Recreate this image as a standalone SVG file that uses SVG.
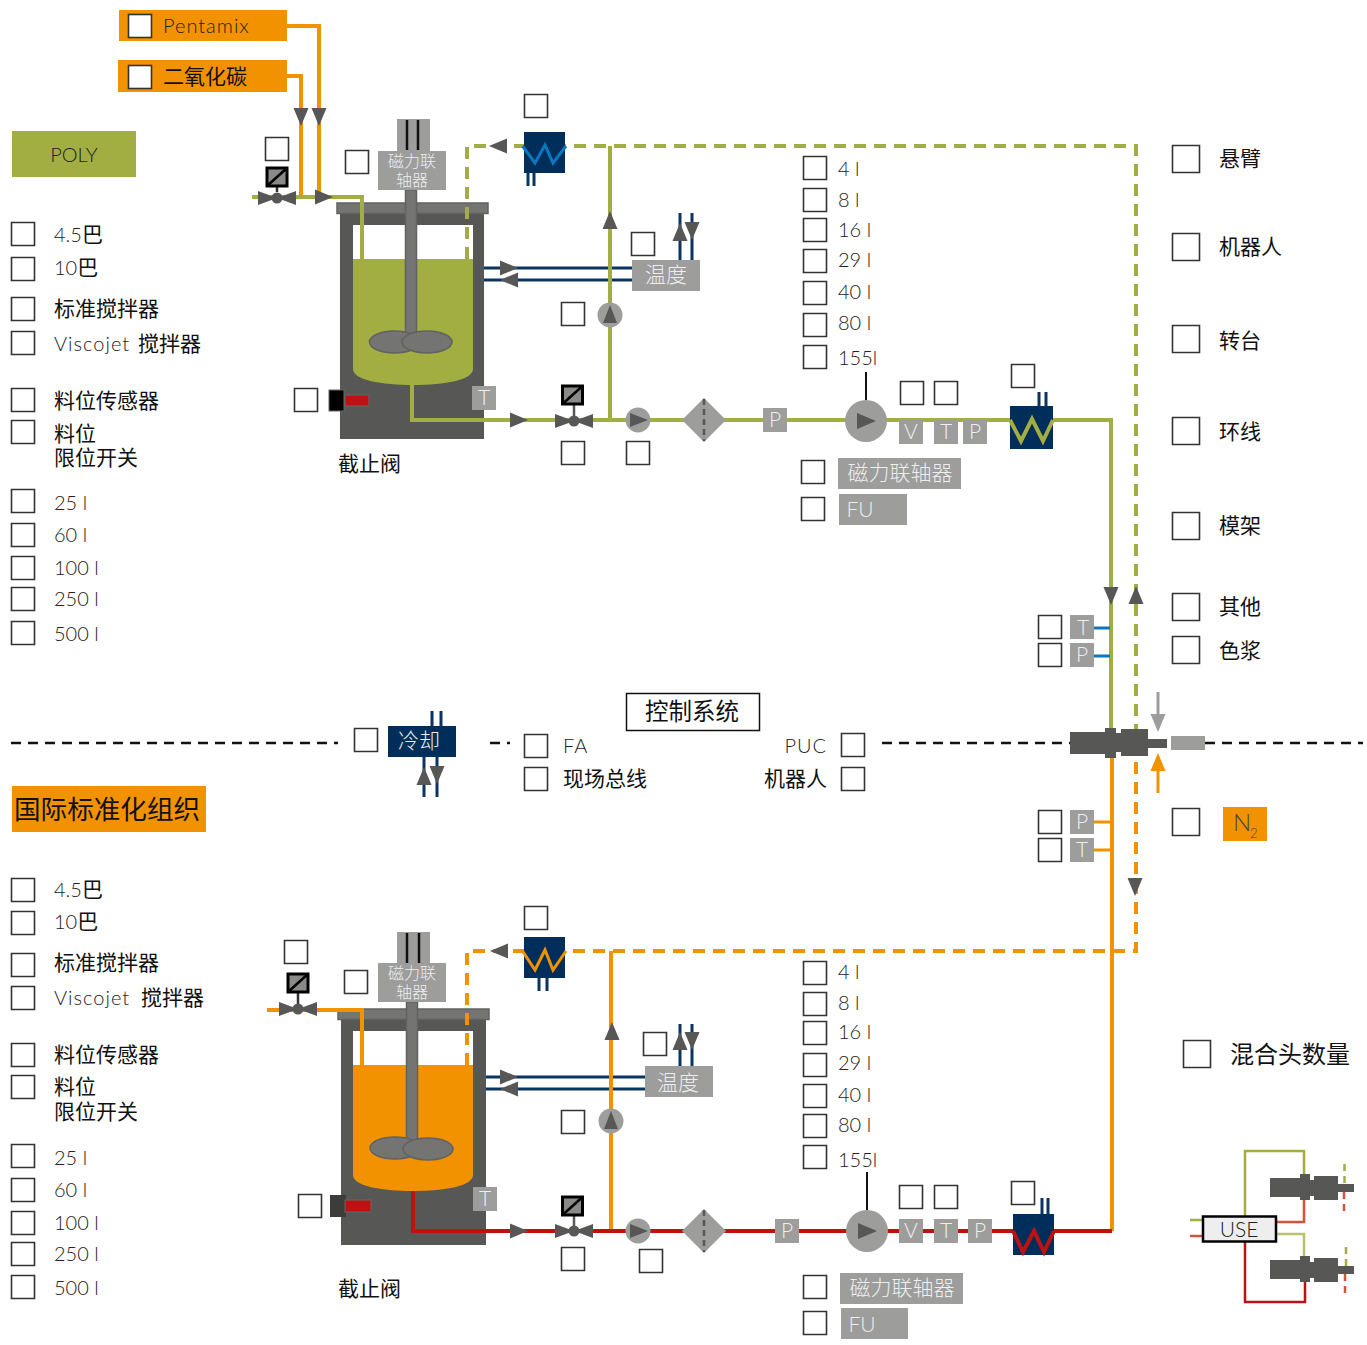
<svg xmlns="http://www.w3.org/2000/svg" width="1367" height="1345" viewBox="0 0 1367 1345">
<style>
text{font-family:"Lato","Noto Sans CJK SC",sans-serif;}
.cb{fill:#fff;stroke:#333;stroke-width:1.6}
.t{font-size:20px;fill:#222;font-weight:300}
.s{letter-spacing:1px}
.c{font-size:21px;fill:#111;font-weight:400}
.w{font-size:21px;fill:#eee;font-weight:300;text-anchor:middle}
.w14{font-size:16px;fill:#eee;font-weight:300;text-anchor:middle}
.g{fill:#9d9d9c}
.d{fill:#575756}
.bar{fill:#747473;stroke:#626261;stroke-width:1.5}
.ol{fill:none;stroke:#a2ad42;stroke-width:4}
.ord{fill:none;stroke:#f39200;stroke-width:4}
.rd{fill:none;stroke:#be1212;stroke-width:4}
.old{fill:none;stroke:#a2ad42;stroke-width:4;stroke-dasharray:12 8}
.ordd{fill:none;stroke:#f39200;stroke-width:4;stroke-dasharray:12 8}
.nv{fill:none;stroke:#0b3561;stroke-width:3}
.bl{fill:none;stroke:#0a78be;stroke-width:3}
.bk{fill:none;stroke:#111;stroke-width:2}
.dash{fill:none;stroke:#111;stroke-width:2.5;stroke-dasharray:10 7}
.a{fill:#575756}
</style>
<defs>
<polygon id="ar" points="-9,-7.500 9,0 -9,7.500"/>
<g id="valve"><polygon class="d" points="-19,-7 0,0 -19,7"/><polygon class="d" points="19,-7 0,0 19,7"/><circle class="d" r="5.500"/></g>
<g id="act"><rect x="-10" y="-9" width="20" height="18" fill="#8a8a89" stroke="#000" stroke-width="3"/><line x1="-10" y1="9" x2="10" y2="-9" stroke="#000" stroke-width="2.500"/></g>
<g id="pump"><circle class="g" r="12.500"/><polygon class="d" points="-8,-7 10,0 -8,7"/></g>
<g id="filter"><polygon class="g" points="-22,0 0,-22 22,0 0,22"/><line x1="0" y1="-21" x2="0" y2="21" stroke="#575756" stroke-width="2.500" stroke-dasharray="6 4"/></g>
<g id="bigpump"><circle class="g" r="21"/><polygon class="d" points="-9,-8 10,0 -9,8"/></g>
</defs>
<rect width="1367" height="1345" fill="#fff"/>

<g id="tank-top">
<rect class="d" x="340" y="213" width="144" height="226"/>
<rect x="353" y="225" width="120" height="35" fill="#fff"/>
<path d="M353 259H473V369C473 380 445 385 413 385C381 385 353 380 353 369Z" fill="#a2ad42"/>
<rect class="bar" x="337" y="203" width="151" height="10.500"/>
<rect class="bar" x="405.500" y="190" width="11" height="145"/>
<ellipse class="bar" cx="394.500" cy="342" rx="25" ry="11"/>
<ellipse class="bar" cx="427" cy="342" rx="25" ry="11"/>
<rect x="472" y="386" width="24" height="24" class="g"/><text class="w" x="484" y="405">T</text>
</g>
<g id="tank-bottom">
<rect class="d" x="341" y="1019" width="145" height="226"/>
<rect x="353" y="1031" width="120" height="35" fill="#fff"/>
<path d="M353 1065H473V1175C473 1186 445 1191 413 1191C381 1191 353 1186 353 1175Z" fill="#f39200"/>
<rect class="bar" x="338" y="1009" width="151" height="10.500"/>
<rect class="bar" x="406.500" y="1002" width="11" height="140"/>
<ellipse class="bar" cx="395" cy="1148" rx="25" ry="11"/>
<ellipse class="bar" cx="428" cy="1149" rx="25" ry="11"/>
<rect x="473" y="1187" width="24" height="24" class="g"/><text class="w" x="485" y="1206">T</text>
</g>

<g id="connectors">
<path class="dash" d="M11 743H338M490 743H510M882 743H1070M1205 743H1363"/>
<path class="nv" d="M484 268H632M484 280H632M680 260V213M692 260V213M528 173V186M534 173V186M1039 406V392M1046 406V392"/>
<path class="ord" d="M287 26H319V197M287 76H301V197"/>
<path class="ol" d="M252 197H362V259M412 385V420H1111V730M610 420V146"/>
<path class="old" d="M467 259V146H1136V730"/>
<path d="M866 372V400" class="bk"/>
<path class="bl" d="M1094 628H1110M1094 656H1110"/>
<path class="nv" d="M486 1077H645M486 1089H645M680 1066V1024M692 1066V1024M539 978V991M547 978V991M1042 1214V1198M1048 1214V1198M432 726V711M441 726V711M424 757V797M437 757V797"/>
<path class="ord" d="M267 1010H362V1065M611 1231V951M1112 758V1231"/>
<path style="stroke-width:3" class="ord" d="M1094 822H1110M1094 850H1110"/>
<path class="rd" d="M413 1191V1231H1112"/>
<path class="ordd" d="M467 1065V951H1136V758"/>
<path d="M867 1172V1210" class="bk"/>
<path d="M1158 692V715" fill="none" stroke="#9d9d9c" stroke-width="3"/>
<path d="M1158 793V770" fill="none" stroke="#f39200" stroke-width="3"/>
<g class="a">
<use href="#ar" transform="translate(301 117) rotate(90)"/>
<use href="#ar" transform="translate(319 117) rotate(90)"/>
<use href="#ar" transform="translate(324 197)"/>
<use href="#ar" transform="translate(519 420)"/>
<use href="#ar" transform="translate(498 146) rotate(180)"/>
<use href="#ar" transform="translate(610 220) rotate(-90)"/>
<use href="#ar" transform="translate(509 268)"/>
<use href="#ar" transform="translate(509 280) rotate(180)"/>
<use href="#ar" transform="translate(680 232) rotate(-90)"/>
<use href="#ar" transform="translate(692 231) rotate(90)"/>
<use href="#ar" transform="translate(1111 596) rotate(90)"/>
<use href="#ar" transform="translate(1136 595) rotate(-90)"/>
<use href="#ar" transform="translate(1135 887) rotate(90)"/>
<use href="#ar" transform="translate(519 1231)"/>
<use href="#ar" transform="translate(499 951) rotate(180)"/>
<use href="#ar" transform="translate(612 1031) rotate(-90)"/>
<use href="#ar" transform="translate(509 1077)"/>
<use href="#ar" transform="translate(509 1089) rotate(180)"/>
<use href="#ar" transform="translate(680 1041) rotate(-90)"/>
<use href="#ar" transform="translate(692 1041) rotate(90)"/>
<use href="#ar" transform="translate(424 776) rotate(-90)"/>
<use href="#ar" transform="translate(437 775) rotate(90)"/>
</g>
<use href="#ar" transform="translate(1158 723) rotate(90)" fill="#9d9d9c"/>
<use href="#ar" transform="translate(1158 762) rotate(-90)" fill="#f39200"/>
</g>

<g id="coupling-top">
<rect class="g" x="397" y="119" width="33" height="33"/>
<path d="M407 120V150M418 120V150" stroke="#111" stroke-width="2.500" fill="none"/>
<rect class="g" x="378" y="151" width="68" height="39"/>
<text class="w14" x="412" y="167">磁力联</text><text class="w14" x="412" y="186">轴器</text>
</g>
<g id="sensor-top"><rect x="329" y="390" width="15" height="21" fill="#000" stroke="#666" stroke-width="1"/><rect x="345" y="395" width="24" height="11" fill="#be1212" stroke="#666" stroke-width="1"/></g>
<g id="hx-top"><rect x="524" y="132" width="41" height="41" fill="#002e5b"/><path d="M522.500 146L535 163L545 145L553 163L566 146" fill="none" stroke="#0a78be" stroke-width="3"/></g>
<g id="temp-top"><rect class="g" x="632" y="260" width="68" height="31"/><text class="w" x="666" y="282">温度</text></g>
<g id="valve-feed-top"><line x1="277" y1="178" x2="277" y2="192" stroke="#333" stroke-width="2.500"/><use href="#act" x="277" y="177"/><use href="#valve" x="277" y="198"/></g>
<g id="valve-out-top"><line x1="574" y1="404" x2="574" y2="416" stroke="#575756" stroke-width="2.500"/><use href="#act" x="572.500" y="395"/><use href="#valve" x="574" y="421"/></g>
<use id="pump-1" href="#pump" x="638" y="420"/>
<use id="pump-2" href="#pump" transform="translate(610 315) rotate(-90)"/>
<use id="filter-top" href="#filter" x="704" y="420"/>
<use id="bigpump-top" href="#bigpump" x="866" y="421"/>
<g id="p-top"><rect class="g" x="763" y="408" width="24" height="24"/><text class="w" x="775" y="427">P</text></g>
<g id="v-top"><rect class="g" x="899" y="420" width="24" height="24"/><text class="w" x="911" y="439">V</text></g>
<g id="t-top"><rect class="g" x="934" y="420" width="24" height="24"/><text class="w" x="946" y="439">T</text></g>
<g id="p2-top"><rect class="g" x="963" y="420" width="24" height="24"/><text class="w" x="975" y="439">P</text></g>
<g id="hx2-top"><rect x="1010" y="406" width="43" height="43" fill="#002e5b"/><path d="M1010 420L1021 441L1032 419L1043 441L1053 420" fill="none" stroke="#a2ad42" stroke-width="4"/></g>
<g id="mag-top"><rect class="g" x="838" y="458" width="123" height="31"/><text class="w" x="900" y="480">磁力联轴器</text></g>
<g id="fu-top"><rect class="g" x="839" y="494" width="68" height="31"/><text class="w" x="860" y="517">FU</text></g>
<g id="t-r1"><rect class="g" x="1070" y="615" width="24" height="24"/><text class="w" x="1083" y="635">T</text></g>
<g id="p-r1"><rect class="g" x="1070" y="643" width="24" height="24"/><text class="w" x="1082" y="662">P</text></g>
<g id="p-r2"><rect class="g" x="1070" y="810" width="24" height="24"/><text class="w" x="1082" y="829">P</text></g>
<g id="t-r2"><rect class="g" x="1070" y="838" width="24" height="24"/><text class="w" x="1082" y="857">T</text></g>

<g id="mixhead">
<rect class="d" x="1070" y="732" width="36" height="22"/><rect class="d" x="1105" y="728" width="11" height="30"/><rect class="d" x="1115" y="733" width="7" height="19"/><rect class="d" x="1121" y="729" width="27" height="27"/><rect class="d" x="1148" y="739" width="19" height="9"/>
<rect class="g" x="1171" y="736" width="34" height="14"/>
</g>

<g id="coupling-bottom">
<rect class="g" x="397" y="932" width="33" height="32"/>
<path d="M407 933V963M419 933V963" stroke="#111" stroke-width="2.500" fill="none"/>
<rect class="g" x="378" y="963" width="68" height="39"/>
<text class="w14" x="412" y="979">磁力联</text><text class="w14" x="412" y="998">轴器</text>
</g>
<g id="sensor-bottom"><rect x="330" y="1195" width="16" height="22" fill="#3c3c3b"/><rect x="345" y="1200" width="26" height="12" fill="#be1212" stroke="#666" stroke-width="1"/></g>
<g id="hx-bottom"><rect x="524" y="937" width="41" height="41" fill="#002e5b"/><path d="M522.500 951L535 970L545 950L553 970L566 951" fill="none" stroke="#f39200" stroke-width="3"/></g>
<g id="temp-bottom"><rect class="g" x="645" y="1066" width="68" height="31"/><text class="w" x="678" y="1090">温度</text></g>
<g id="valve-feed-bottom"><line x1="298" y1="992" x2="298" y2="1005" stroke="#333" stroke-width="2.500"/><use href="#act" x="298" y="983"/><use href="#valve" x="298" y="1009"/></g>
<g id="valve-out-bottom"><line x1="574" y1="1215" x2="574" y2="1227" stroke="#575756" stroke-width="2.500"/><use href="#act" x="572.500" y="1206"/><use href="#valve" x="574" y="1231"/></g>
<use id="pump-3" href="#pump" x="638" y="1231"/>
<use id="pump-4" href="#pump" transform="translate(611 1121) rotate(-90)"/>
<use id="filter-bottom" href="#filter" x="704" y="1231"/>
<use id="bigpump-bottom" href="#bigpump" x="867" y="1231"/>
<g id="p-bottom"><rect class="g" x="775" y="1219" width="24" height="24"/><text class="w" x="787" y="1238">P</text></g>
<g id="v-bottom"><rect class="g" x="899" y="1219" width="24" height="24"/><text class="w" x="911" y="1238">V</text></g>
<g id="t-bottom"><rect class="g" x="934" y="1219" width="24" height="24"/><text class="w" x="946" y="1238">T</text></g>
<g id="p2-bottom"><rect class="g" x="968" y="1219" width="24" height="24"/><text class="w" x="980" y="1238">P</text></g>
<g id="hx2-bottom"><rect x="1013" y="1214" width="41" height="41" fill="#002e5b"/><path d="M1013 1231L1023 1252L1034 1231L1044 1252L1054 1231" fill="none" stroke="#be1212" stroke-width="4"/></g>
<g id="mag-bottom"><rect class="g" x="840" y="1273" width="123" height="31"/><text class="w" x="902" y="1295">磁力联轴器</text></g>
<g id="fu-bottom"><rect class="g" x="841" y="1308" width="67" height="31"/><text class="w" x="862" y="1332">FU</text></g>

<g id="n2"><rect x="1223" y="807" width="44" height="34" fill="#f39200"/><text x="1233" y="831" font-size="24" font-weight="300" fill="#444">N</text><text x="1250" y="838" font-size="13" font-weight="300" fill="#444">2</text></g>
<g id="pentamix"><rect x="119" y="10" width="168" height="31" fill="#f39200"/><rect class="cb" x="128.500" y="14.500" width="23" height="23"/><text class="t s" x="163" y="33">Pentamix</text></g>
<g id="co2"><rect x="118" y="60" width="169" height="32" fill="#f39200"/><rect class="cb" x="128.500" y="65.500" width="23" height="23"/><text class="c" x="163" y="84">二氧化碳</text></g>
<g id="poly"><rect x="12" y="131" width="124" height="46" fill="#a2ad42"/><text class="t" x="74" y="162" text-anchor="middle">POLY</text></g>
<g id="iso"><rect x="12" y="786" width="194" height="46" fill="#f39200"/><text x="14" y="819" font-size="26.600" fill="#111">国际标准化组织</text></g>
<g id="control"><rect x="626.500" y="693.500" width="133" height="37" fill="#fff" stroke="#111" stroke-width="1.500"/><text x="692" y="720" font-size="23.500" fill="#111" text-anchor="middle">控制系统</text></g>
<g id="cooling"><rect x="388" y="726" width="68" height="31" fill="#002e5b"/><text class="w" x="419" y="748">冷却</text></g>

<g id="use-detail">
<path d="M1190 1220H1203" fill="none" stroke="#a2ad42" stroke-width="2.500"/>
<path d="M1190 1236H1203" fill="none" stroke="#d4533a" stroke-width="2.500"/>
<path d="M1245 1216V1151H1304V1175" fill="none" stroke="#a2ad42" stroke-width="2.500"/>
<path d="M1276 1222H1304V1198" fill="none" stroke="#d4533a" stroke-width="2.500"/>
<path d="M1276 1234H1304V1258" fill="none" stroke="#b8c26c" stroke-width="2.500"/>
<path d="M1245 1242V1302H1305V1280" fill="none" stroke="#be1212" stroke-width="2.500"/>
<g class="d"><rect x="1270" y="1178" width="31" height="19"/><rect x="1300" y="1174" width="10" height="26"/><rect x="1309" y="1180" width="6" height="16"/><rect x="1314" y="1176" width="24" height="24"/><rect x="1338" y="1184" width="16" height="8"/></g>
<g class="d"><rect x="1270" y="1260" width="31" height="19"/><rect x="1300" y="1256" width="10" height="26"/><rect x="1309" y="1262" width="6" height="16"/><rect x="1314" y="1258" width="24" height="24"/><rect x="1338" y="1266" width="16" height="8"/></g>
<path d="M1344.500 1164V1184" fill="none" stroke="#a2ad42" stroke-width="2.500" stroke-dasharray="7 5"/>
<path d="M1344 1192V1211" fill="none" stroke="#d4533a" stroke-width="2.500" stroke-dasharray="7 5"/>
<path d="M1346 1247V1266" fill="none" stroke="#a2ad42" stroke-width="2.500" stroke-dasharray="7 5"/>
<path d="M1345 1274V1293" fill="none" stroke="#d4533a" stroke-width="2.500" stroke-dasharray="7 5"/>
<rect x="1203" y="1216.500" width="73" height="25" fill="#eee" stroke="#000" stroke-width="2.500"/>
<text x="1239" y="1237" font-size="21" font-weight="300" fill="#222" text-anchor="middle">USE</text>
</g>

<g id="checkboxes" transform="translate(.5 .5)">
<path class="cb" d="M265 137h23v23h-23zM345 150h23v23h-23zM524 94h23v23h-23zM631 232h23v23h-23zM561 302h23v23h-23zM294 388h23v23h-23zM561 441h23v23h-23zM626 441h23v23h-23zM900 381h23v23h-23zM934 381h23v23h-23zM1011 364h23v23h-23zM801 460h23v23h-23zM801 497h23v23h-23zM1038 615h23v23h-23zM1038 643h23v23h-23zM1038 810h23v23h-23zM1038 838h23v23h-23zM354 728h23v23h-23zM524 734h23v23h-23zM524 767h23v23h-23zM841 733h23v23h-23zM841 767h23v23h-23zM284 940h23v23h-23zM344 970h23v23h-23zM524 906h23v23h-23zM643 1032h23v23h-23zM561 1110h23v23h-23zM298 1194h23v23h-23zM561 1247h23v23h-23zM639 1249h23v23h-23zM899 1185h23v23h-23zM934 1185h23v23h-23zM1011 1181h23v23h-23zM803 1275h23v23h-23zM803 1311h23v23h-23z"/>
<path class="cb" d="M11 222h23v23h-23zM11 257h23v23h-23zM11 297h23v23h-23zM11 331h23v23h-23zM11 388h23v23h-23zM11 420h23v23h-23zM11 489h23v23h-23zM11 523h23v23h-23zM11 556h23v23h-23zM11 587h23v23h-23zM11 621h23v23h-23z"/>
<path class="cb" d="M11 878h23v23h-23zM11 911h23v23h-23zM11 953h23v23h-23zM11 986h23v23h-23zM11 1043h23v23h-23zM11 1075h23v23h-23zM11 1144h23v23h-23zM11 1178h23v23h-23zM11 1211h23v23h-23zM11 1242h23v23h-23zM11 1275h23v23h-23z"/>
<path class="cb" d="M803 156h23v23h-23zM803 188h23v23h-23zM803 218h23v23h-23zM803 249h23v23h-23zM803 281h23v23h-23zM803 313h23v23h-23zM803 345h23v23h-23z"/>
<path class="cb" d="M803 961h23v23h-23zM803 992h23v23h-23zM803 1021h23v23h-23zM803 1053h23v23h-23zM803 1084h23v23h-23zM803 1114h23v23h-23zM803 1145h23v23h-23z"/>
<path class="cb" d="M1172 145h27v27h-27zM1172 233h27v27h-27zM1172 325h27v27h-27zM1172 417h27v27h-27zM1172 512h27v27h-27zM1172 593h27v27h-27zM1172 636h27v27h-27zM1172 808h27v27h-27zM1183 1040h27v27h-27z"/>
</g>

<g id="labels">
<text class="t" x="54" y="242">4.5<tspan class="c">巴</tspan></text>
<text class="t" x="54" y="275">10<tspan class="c">巴</tspan></text>
<text class="c" x="54" y="316">标准搅拌器</text>
<text class="t s" x="54" y="351">Viscojet</text><text class="c" x="138" y="351">搅拌器</text>
<text class="c" x="54" y="408">料位传感器</text>
<text class="c" x="54" y="441">料位</text>
<text class="c" x="54" y="465">限位开关</text>
<text class="t" x="54" y="510">25 l</text><text class="t" x="54" y="542">60 l</text><text class="t" x="54" y="575">100 l</text><text class="t" x="54" y="606">250 l</text><text class="t" x="54" y="641">500 l</text>
<text class="c" x="338" y="471">截止阀</text>
<text class="t" x="838" y="176">4 l</text><text class="t" x="838" y="207">8 l</text><text class="t" x="838" y="237">16 l</text><text class="t" x="838" y="267">29 l</text><text class="t" x="838" y="299">40 l</text><text class="t" x="838" y="330">80 l</text><text class="t" x="838" y="365">155l</text>
<text class="c" x="1219" y="166">悬臂</text><text class="c" x="1219" y="254">机器人</text><text class="c" x="1219" y="348">转台</text><text class="c" x="1219" y="439">环线</text><text class="c" x="1219" y="533">模架</text><text class="c" x="1219" y="614">其他</text><text class="c" x="1219" y="658">色浆</text>
<text class="t s" x="563" y="753">FA</text><text class="c" x="563" y="786">现场总线</text>
<text class="t s" x="827" y="753" text-anchor="end">PUC</text><text class="c" x="827" y="786" text-anchor="end">机器人</text>
<text class="t" x="54" y="897">4.5<tspan class="c">巴</tspan></text>
<text class="t" x="54" y="929">10<tspan class="c">巴</tspan></text>
<text class="c" x="54" y="970">标准搅拌器</text>
<text class="t s" x="54" y="1005">Viscojet</text><text class="c" x="141" y="1005">搅拌器</text>
<text class="c" x="54" y="1062">料位传感器</text>
<text class="c" x="54" y="1094">料位</text>
<text class="c" x="54" y="1119">限位开关</text>
<text class="t" x="54" y="1165">25 l</text><text class="t" x="54" y="1197">60 l</text><text class="t" x="54" y="1230">100 l</text><text class="t" x="54" y="1261">250 l</text><text class="t" x="54" y="1295">500 l</text>
<text class="c" x="338" y="1296">截止阀</text>
<text class="t" x="838" y="979">4 l</text><text class="t" x="838" y="1010">8 l</text><text class="t" x="838" y="1039">16 l</text><text class="t" x="838" y="1070">29 l</text><text class="t" x="838" y="1102">40 l</text><text class="t" x="838" y="1132">80 l</text><text class="t" x="838" y="1167">155l</text>
<text x="1230" y="1063" font-size="24" fill="#111">混合头数量</text>
</g>
</svg>
